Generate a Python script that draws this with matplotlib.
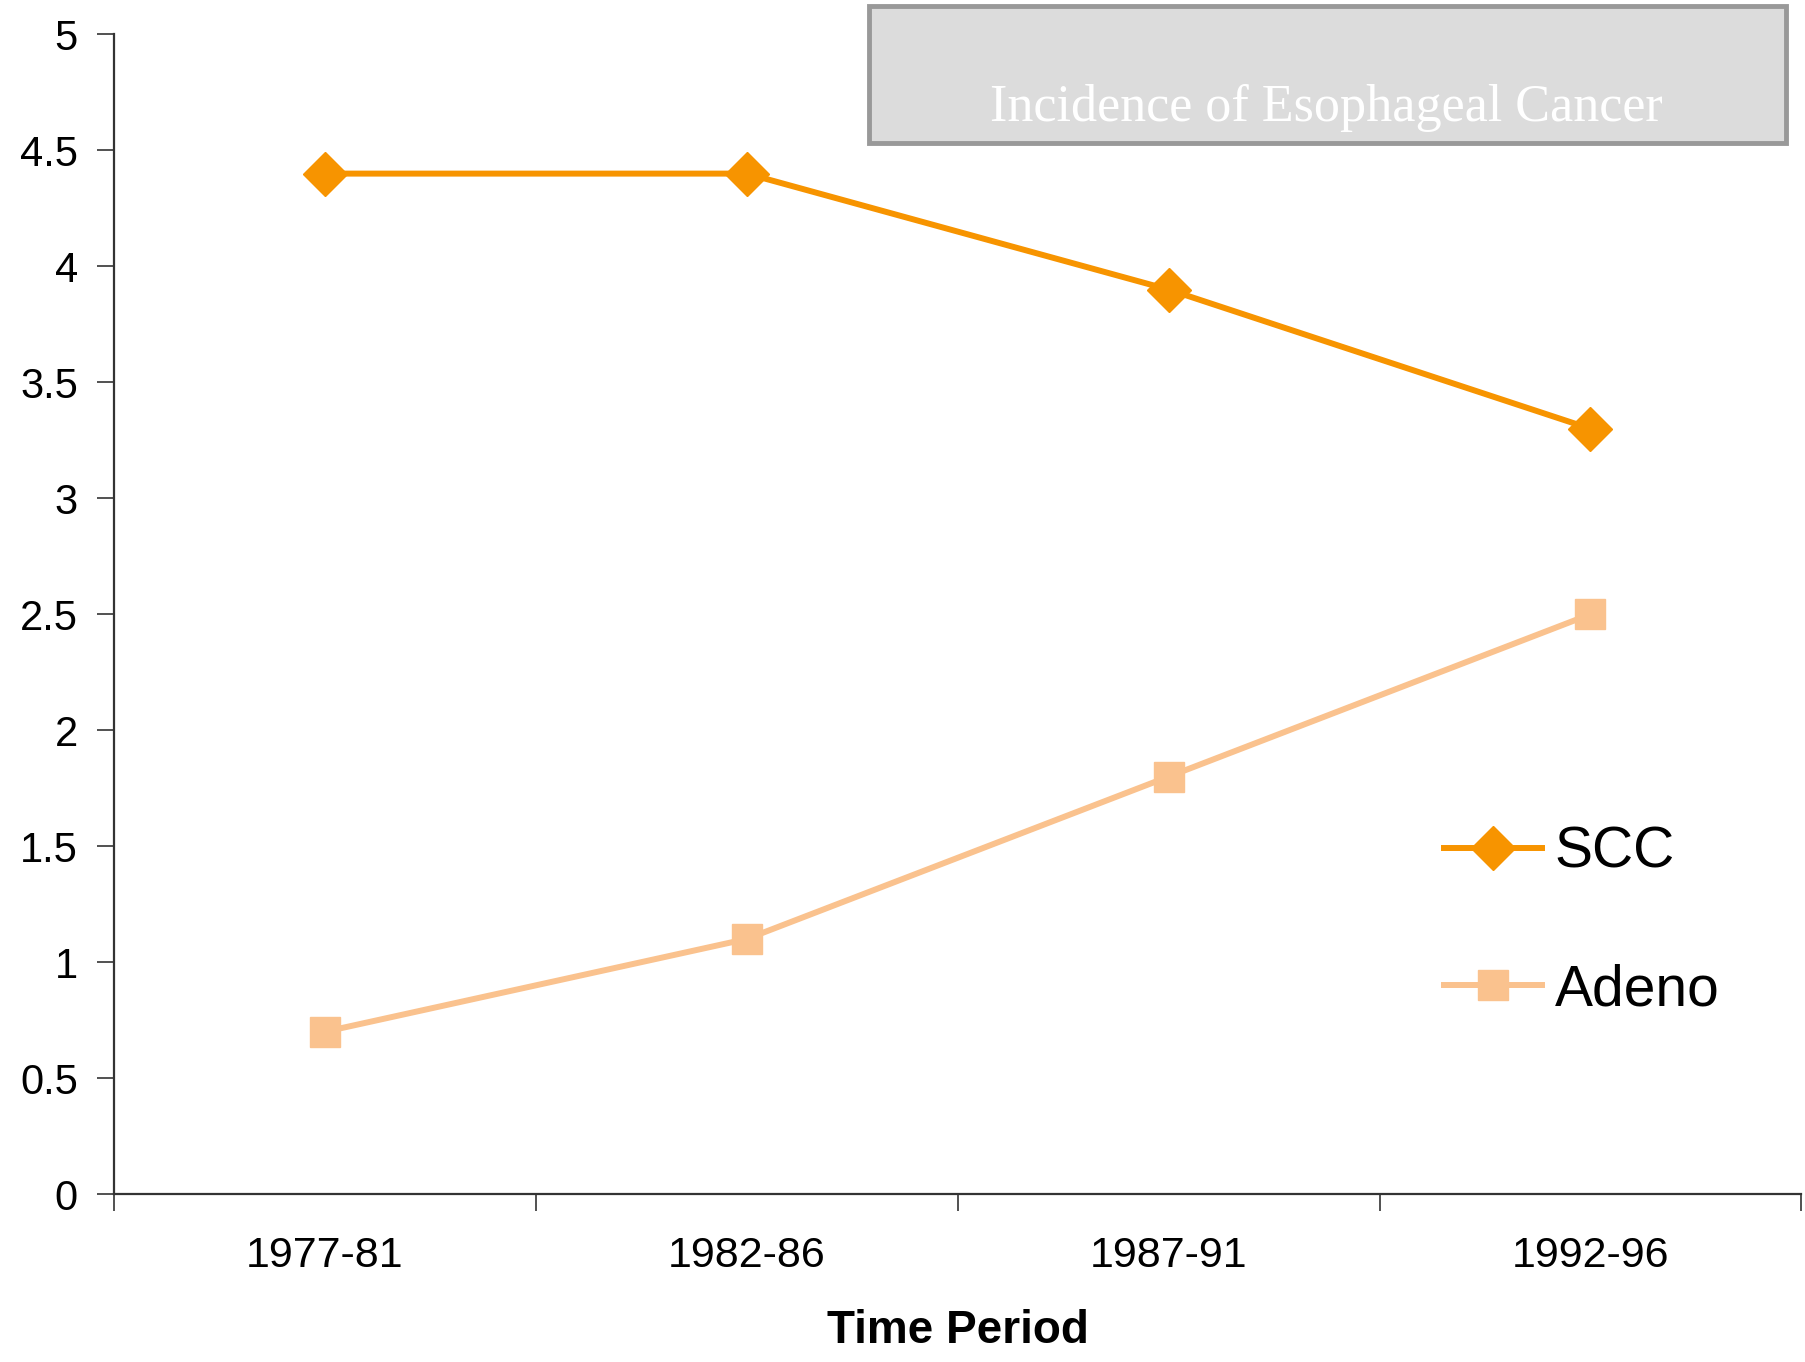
import matplotlib
matplotlib.use("Agg")
import matplotlib.pyplot as plt
from matplotlib.patches import Rectangle

# Data
periods = ["1977-81", "1982-86", "1987-91", "1992-96"]
scc = [4.4, 4.4, 3.9, 3.3]
adeno = [0.7, 1.1, 1.8, 2.5]
yticks = [0, 0.5, 1, 1.5, 2, 2.5, 3, 3.5, 4, 4.5, 5]
ytick_labels = ["0", "0.5", "1", "1.5", "2", "2.5", "3", "3.5", "4", "4.5", "5"]

plt.rcParams['font.family'] = ['Liberation Sans', 'DejaVu Sans']

fig = plt.figure(figsize=(18.05, 13.62), dpi=100)
ax = fig.add_axes([0.0632, 0.1233, 0.9348, 0.8514])

x = list(range(len(periods)))
ax.plot(x, scc, color="#F79400", lw=4.3, marker="D", ms=22, label="SCC")
ax.plot(x, adeno, color="#FAC28E", lw=4.3, marker="s", ms=22, label="Adeno")

ax.set_xlim(-0.5, 3.5)
ax.set_ylim(0, 5)

for s in ["top", "right"]:
    ax.spines[s].set_visible(False)
for s in ["left", "bottom"]:
    ax.spines[s].set_linewidth(1.6)
    ax.spines[s].set_color("#333333")

ax.set_yticks(yticks)
ax.set_yticklabels(ytick_labels)
ax.tick_params(axis="y", length=12, width=1.2, labelsize=30, pad=14, colors="#333333", labelcolor="black")

# category boundary ticks, labels centered
ax.set_xticks([-0.5, 0.5, 1.5, 2.5, 3.5])
ax.set_xticklabels([])
ax.set_xticks(x, minor=True)
ax.set_xticklabels(periods, minor=True)
ax.tick_params(axis="x", which="major", length=12, width=1.2, colors="#333333")
ax.tick_params(axis="x", which="minor", length=0, labelsize=31, pad=30)

ax.set_xlabel("Time Period", fontsize=33, fontweight="bold", labelpad=24)

ax.legend(loc="center left", bbox_to_anchor=(0.758, 0.235), frameon=False,
          prop={"size": 41}, handlelength=1.72, labelspacing=1.46, handletextpad=0.22)

# title box
box = Rectangle((869 / 1805, 1 - 143 / 1362), (1786 - 869) / 1805, (143 - 6) / 1362,
                transform=fig.transFigure, facecolor="#DCDCDC", edgecolor="#999999",
                linewidth=3.5, zorder=5)
fig.patches.append(box)
fig.text(1326 / 1805, 1 - 108 / 1362, "Incidence of Esophageal Cancer", color="white",
         fontsize=37.5, family=["Liberation Serif", "DejaVu Serif"], ha="center", va="center", zorder=6)

fig.savefig("out.png", dpi=100)
